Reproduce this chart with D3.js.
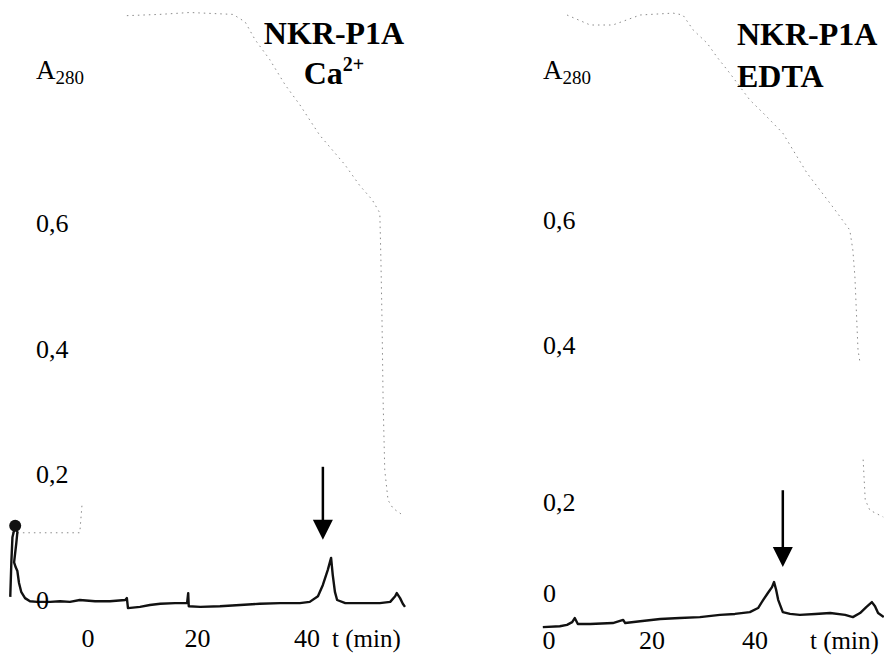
<!DOCTYPE html>
<html lang="en">
<head>
    <meta charset="UTF-8">
    <title>NKR-P1A elution profiles</title>
    <script src="https://d3js.org/d3.v7.min.js"></script>
</head>

<style>
    body{
        margin: 0;
        background: white;
    }
    text {
        font-family: "Liberation Serif", "Times New Roman", serif;
        fill: black;
    }
</style>
<body>

    <svg id="svgChart"></svg>

    <script>
    //Data (t in min, A280)
        const yTickValues = [0, 0.2, 0.4, 0.6];
        const yTickLabels = ["0", "0,2", "0,4", "0,6"];
        const xTickValues = [0, 20, 40];
        const xTickLabels = ["0", "20", "40"];

        const leftTrace = [
            [-14.2, 0.005], [-14.0, 0.06], [-13.8, 0.1], [-13.3, 0.118], [-12.9, 0.108],
            [-13.1, 0.09], [-13.5, 0.06], [-13.2, 0.052], [-12.9, 0.046], [-12.6, 0.027],
            [-12.2, 0.013], [-11.5, 0.003], [-10.6, -0.002], [-9.3, -0.003], [-6.9, -0.003],
            [-5.1, -0.002], [-3.3, -0.003], [-1.5, 0.0], [1.3, -0.002], [4.0, -0.002],
            [6.8, 0.0], [7.1, 0.003], [7.3, -0.013], [9.5, -0.011], [11.3, -0.008],
            [13.2, -0.006], [15.9, -0.005], [18.1, -0.005], [18.3, 0.011], [18.4, -0.01],
            [20.5, -0.011], [24.1, -0.01], [27.8, -0.008], [31.4, -0.006], [35.1, -0.005],
            [38.7, -0.005], [40.5, -0.003], [42.0, 0.006], [42.9, 0.024], [43.8, 0.048],
            [44.4, 0.067], [44.7, 0.04], [45.1, 0.013], [45.5, 0.0], [47.0, -0.005],
            [49.7, -0.005], [53.3, -0.005], [55.2, -0.003], [56.1, 0.006], [56.4, 0.011],
            [57.0, 0.003], [57.5, -0.006], [57.9, -0.011]
        ];

        const leftGradient = [
            [-13.9, 0.107], [-1.5, 0.107], [-1.1, 0.151], null,
            [7.1, 0.93], [13.1, 0.932], [18.6, 0.935], [26.5, 0.932], [28.7, 0.92],
            [30.5, 0.892], [33.2, 0.86], [36.0, 0.82], [38.7, 0.788], [42.3, 0.74],
            [46.9, 0.693], [49.6, 0.66], [51.9, 0.637], [53.3, 0.616], [53.5, 0.541],
            [53.7, 0.446], [53.9, 0.318], [54.2, 0.207], [54.8, 0.159], [55.7, 0.146],
            [57.5, 0.135]
        ];

        const rightTrace = [
            [-1.2, -0.075], [2.1, -0.073], [3.5, -0.07], [4.5, -0.064], [5.0, -0.055],
            [5.6, -0.068], [8.0, -0.068], [12.4, -0.066], [14.4, -0.059], [14.8, -0.066],
            [17.7, -0.062], [21.6, -0.057], [25.4, -0.055], [29.3, -0.053], [33.2, -0.048],
            [36.1, -0.046], [39.0, -0.042], [40.6, -0.033], [41.6, -0.015], [42.5, 0.0],
            [43.3, 0.013], [43.7, 0.024], [44.1, 0.007], [44.5, -0.015], [45.4, -0.042],
            [46.8, -0.046], [48.7, -0.048], [51.7, -0.046], [54.6, -0.044], [57.5, -0.048],
            [59.0, -0.053], [60.4, -0.044], [61.6, -0.031], [62.7, -0.02], [63.3, -0.029],
            [63.9, -0.044], [65.0, -0.053]
        ];

        const rightGradient = [
            [3.5, 0.928], [8.0, 0.912], [12.4, 0.912], [17.7, 0.928], [24.1, 0.931],
            [26.0, 0.928], [28.0, 0.904], [30.7, 0.883], [32.6, 0.861], [35.1, 0.835],
            [39.0, 0.792], [41.6, 0.771], [45.4, 0.739], [50.1, 0.675], [55.1, 0.621],
            [58.4, 0.584], [59.0, 0.552], [59.4, 0.509], [60.0, 0.394], [60.4, 0.377], null,
            [61.0, 0.254], [61.4, 0.203], [62.3, 0.182], [64.9, 0.167]
        ];

        // arrow: [t, A top, A tip]
        const leftArrow = [42.9, 0.212, 0.096];
        const rightArrow = [45.4, 0.215, 0.057];

    //Panels setup
        const width = 884;
        const height = 655;

        const svg = d3.select("#svgChart")
            .attr("width", width)
            .attr("height", height);

        const panels = [
            {
                x: d3.scaleLinear().domain([0, 40]).range([88, 307]),
                y: d3.scaleLinear().domain([0, 0.6]).range([600, 223]),
                trace: leftTrace, gradient: leftGradient, arrow: leftArrow,
                labelX: 36, xLabelY: 647, unitX: 332, a280Y: 79,
                title: ["NKR-P1A", "Ca"], sup: "2+", titleX: 334, titleAnchor: "middle",
                titleY: [44, 84]
            },
            {
                x: d3.scaleLinear().domain([0, 40]).range([549, 755]),
                y: d3.scaleLinear().domain([0, 0.2, 0.4, 0.6]).range([593, 502, 345, 220]),
                trace: rightTrace, gradient: rightGradient, arrow: rightArrow,
                labelX: 543, xLabelY: 649, unitX: 810, a280Y: 79,
                title: ["NKR-P1A", "EDTA"], sup: null, titleX: 737, titleAnchor: "start",
                titleY: [45, 87]
            }
        ];

        panels.forEach(p => {
            const g = svg.append("g");

            const line = d3.line()
                .defined(d => d !== null)
                .x(d => p.x(d[0]))
                .y(d => p.y(d[1]));

        //gradient (faint dotted)
            g.append("path")
                .datum(p.gradient)
                .attr("d", line)
                .attr("fill", "none")
                .attr("stroke", "#8a8a8a")
                .attr("stroke-width", 1)
                .attr("stroke-dasharray", "1.5,4");

        //absorbance trace
            g.append("path")
                .datum(p.trace)
                .attr("d", line)
                .attr("fill", "none")
                .attr("stroke", "#111")
                .attr("stroke-width", 2.4)
                .attr("stroke-linejoin", "round");

        //y tick labels
            g.selectAll(".ylab")
                .data(yTickValues)
                .join("text")
                .attr("x", p.labelX)
                .attr("y", d => p.y(d))
                .attr("dy", "0.35em")
                .attr("font-size", 26)
                .text((d, i) => yTickLabels[i]);

        //x tick labels
            g.selectAll(".xlab")
                .data(xTickValues)
                .join("text")
                .attr("x", d => p.x(d))
                .attr("y", p.xLabelY)
                .attr("text-anchor", "middle")
                .attr("font-size", 26)
                .text((d, i) => xTickLabels[i]);

            g.append("text")
                .attr("x", p.unitX)
                .attr("y", p.xLabelY)
                .attr("font-size", 25)
                .text("t (min)");

        //A280 label
            const a = g.append("text")
                .attr("x", p.labelX)
                .attr("y", p.a280Y)
                .attr("font-size", 27)
                .text("A");
            a.append("tspan")
                .attr("font-size", 19)
                .attr("dy", 5)
                .text("280");

        //title
            g.append("text")
                .attr("x", p.titleX)
                .attr("y", p.titleY[0])
                .attr("text-anchor", p.titleAnchor)
                .attr("font-size", 32)
                .attr("font-weight", "bold")
                .text(p.title[0]);
            const t2 = g.append("text")
                .attr("x", p.titleX)
                .attr("y", p.titleY[1])
                .attr("text-anchor", p.titleAnchor)
                .attr("font-size", 32)
                .attr("font-weight", "bold")
                .text(p.title[1]);
            if (p.sup) {
                t2.append("tspan")
                    .attr("font-size", 20)
                    .attr("dy", -13)
                    .text(p.sup);
            }

        //arrow
            const ax = p.x(p.arrow[0]);
            const yTop = p.y(p.arrow[1]);
            const yTip = p.y(p.arrow[2]);
            const headH = 20, headW = 10;
            g.append("line")
                .attr("x1", ax).attr("x2", ax)
                .attr("y1", yTop).attr("y2", yTip - headH + 1)
                .attr("stroke", "black")
                .attr("stroke-width", 2.5);
            g.append("path")
                .attr("d", `M${ax - headW},${yTip - headH} L${ax + headW},${yTip - headH} L${ax},${yTip} Z`)
                .attr("fill", "black");
        });

    //injection blob at start of left trace
        svg.append("circle")
            .attr("cx", panels[0].x(-13.3))
            .attr("cy", panels[0].y(0.118))
            .attr("r", 6)
            .attr("fill", "#111");

    </script>
</body>
</html>
